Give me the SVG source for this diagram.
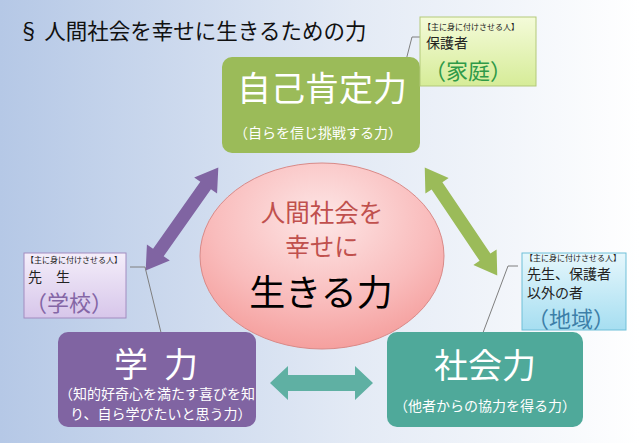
<svg xmlns="http://www.w3.org/2000/svg" width="640" height="443" viewBox="0 0 640 443">
<defs>
<linearGradient id="bg" x1="0" y1="0" x2="1" y2="0">
<stop offset="0" stop-color="#b5c8e6"/>
<stop offset="0.55" stop-color="#e3eaf5"/>
<stop offset="1" stop-color="#ffffff"/>
</linearGradient>
<radialGradient id="pink" cx="0.5" cy="0.3" r="0.75">
<stop offset="0" stop-color="#fde6e6"/>
<stop offset="0.6" stop-color="#f9bcbc"/>
<stop offset="1" stop-color="#f49a98"/>
</radialGradient>
<linearGradient id="cgG" x1="0" y1="0" x2="0" y2="1">
<stop offset="0" stop-color="#f4fbd9"/>
<stop offset="1" stop-color="#d6ec98"/>
</linearGradient>
<linearGradient id="cgP" x1="0" y1="0" x2="0" y2="1">
<stop offset="0" stop-color="#f4eefa"/>
<stop offset="1" stop-color="#d7c6ea"/>
</linearGradient>
<linearGradient id="cgB" x1="0" y1="0" x2="0" y2="1">
<stop offset="0" stop-color="#e6f7fc"/>
<stop offset="1" stop-color="#a6def1"/>
</linearGradient>
</defs>
<style>
text{font-family:"Noto Sans CJK JP","Noto Sans",sans-serif;}
.big{font-size:34px;fill:#ffffff;text-anchor:middle;}
.sub{font-size:14px;fill:#ffffff;}
.tiny{font-size:8px;fill:#222;}
.who{font-size:14px;fill:#222;}
.place{font-size:22px;}
.lead{fill:none;stroke:#7f7f7f;stroke-width:1;}
</style>
<rect width="640" height="443" fill="url(#bg)"/>
<text x="18" y="39" font-size="21.5" fill="#111">§ 人間社会を幸せに生きるための力</text>

<g id="connectors">
<polygon fill="#8064a2" transform="translate(182,219) rotate(-54.8)" points="-63,0 -41,-14 -41,-6.5 41,-6.5 41,-14 63,0 41,14 41,6.5 -41,6.5 -41,14"/>
<polygon fill="#9bbb59" transform="translate(461,221.5) rotate(56.1)" points="-65,0 -43,-14 -43,-6.5 43,-6.5 43,-14 65,0 43,14 43,6.5 -43,6.5 -43,14"/>
<polygon fill="#5fb0a3" points="270,383 288,366 288,375 355,375 355,366 373,383 355,400 355,391 288,391 288,400"/>
<polyline class="lead" points="420,37 412,37 403,72"/>
<polyline class="lead" points="130,267 145,267 166,353"/>
<polyline class="lead" points="518,266 508,266 472,362"/>
</g>

<g id="center">
<ellipse cx="322" cy="256" rx="122" ry="93" fill="url(#pink)" stroke="#d98a88" stroke-width="1"/>
<text x="322" y="222" font-size="24.5" fill="#c0504d" text-anchor="middle">人間社会を</text>
<text x="322" y="256" font-size="24.5" fill="#c0504d" text-anchor="middle">幸せに</text>
<text x="321" y="306" font-size="36" fill="#000" text-anchor="middle">生きる力</text>
</g>

<g id="jiko">
<rect x="222" y="57" width="198" height="96" rx="10" fill="#9bbb59"/>
<text class="big" x="322" y="101">自己肯定力</text>
<text class="sub" x="318" y="138" text-anchor="middle">（自らを信じ挑戦する力）</text>
</g>

<g id="gaku">
<rect x="58" y="332" width="198" height="95" rx="10" fill="#8064a2"/>
<text class="big" x="131" y="377">学</text>
<text class="big" x="181" y="377">力</text>
<text class="sub" x="59" y="399">（知的好奇心を満たす喜びを知</text>
<text class="sub" x="70" y="419">り、自ら学びたいと思う力）</text>
</g>

<g id="shakai">
<rect x="387" y="332" width="196" height="95" rx="10" fill="#4fa99a"/>
<text class="big" x="485" y="378">社会力</text>
<text class="sub" x="485" y="411" font-size="13" text-anchor="middle">（他者からの協力を得る力）</text>
</g>

<g id="callout-katei">
<rect x="420" y="17" width="116" height="69" fill="url(#cgG)" stroke="#b3c97a" stroke-width="1"/>
<text class="tiny" x="423" y="30">【主に身に付けさせる人】</text>
<text class="who" x="426" y="48">保護者</text>
<text class="place" x="424" y="79" fill="#2f9a48">（家庭）</text>
</g>

<g id="callout-gakko">
<rect x="24" y="253" width="102" height="65" fill="url(#cgP)" stroke="#a28cc0" stroke-width="1"/>
<text class="tiny" x="26" y="263" font-size="7.7">【主に身に付けさせる人】</text>
<text class="who" x="28" y="282" xml:space="preserve">先　生</text>
<text class="place" x="25" y="311" fill="#8466a6">（学校）</text>
</g>

<g id="callout-chiiki">
<rect x="522" y="253" width="104" height="77" fill="url(#cgB)" stroke="#6fbfd8" stroke-width="1"/>
<text class="tiny" x="525" y="261" font-size="7.6">【主に身に付けさせる人】</text>
<text class="who" x="527" y="278.5" font-size="13.2">先生、保護者</text>
<text class="who" x="527" y="297.5" font-size="13">以外の者</text>
<text class="place" x="527" y="326.5" font-size="21.5" fill="#3d7fa8">（地域）</text>
</g>
</svg>
